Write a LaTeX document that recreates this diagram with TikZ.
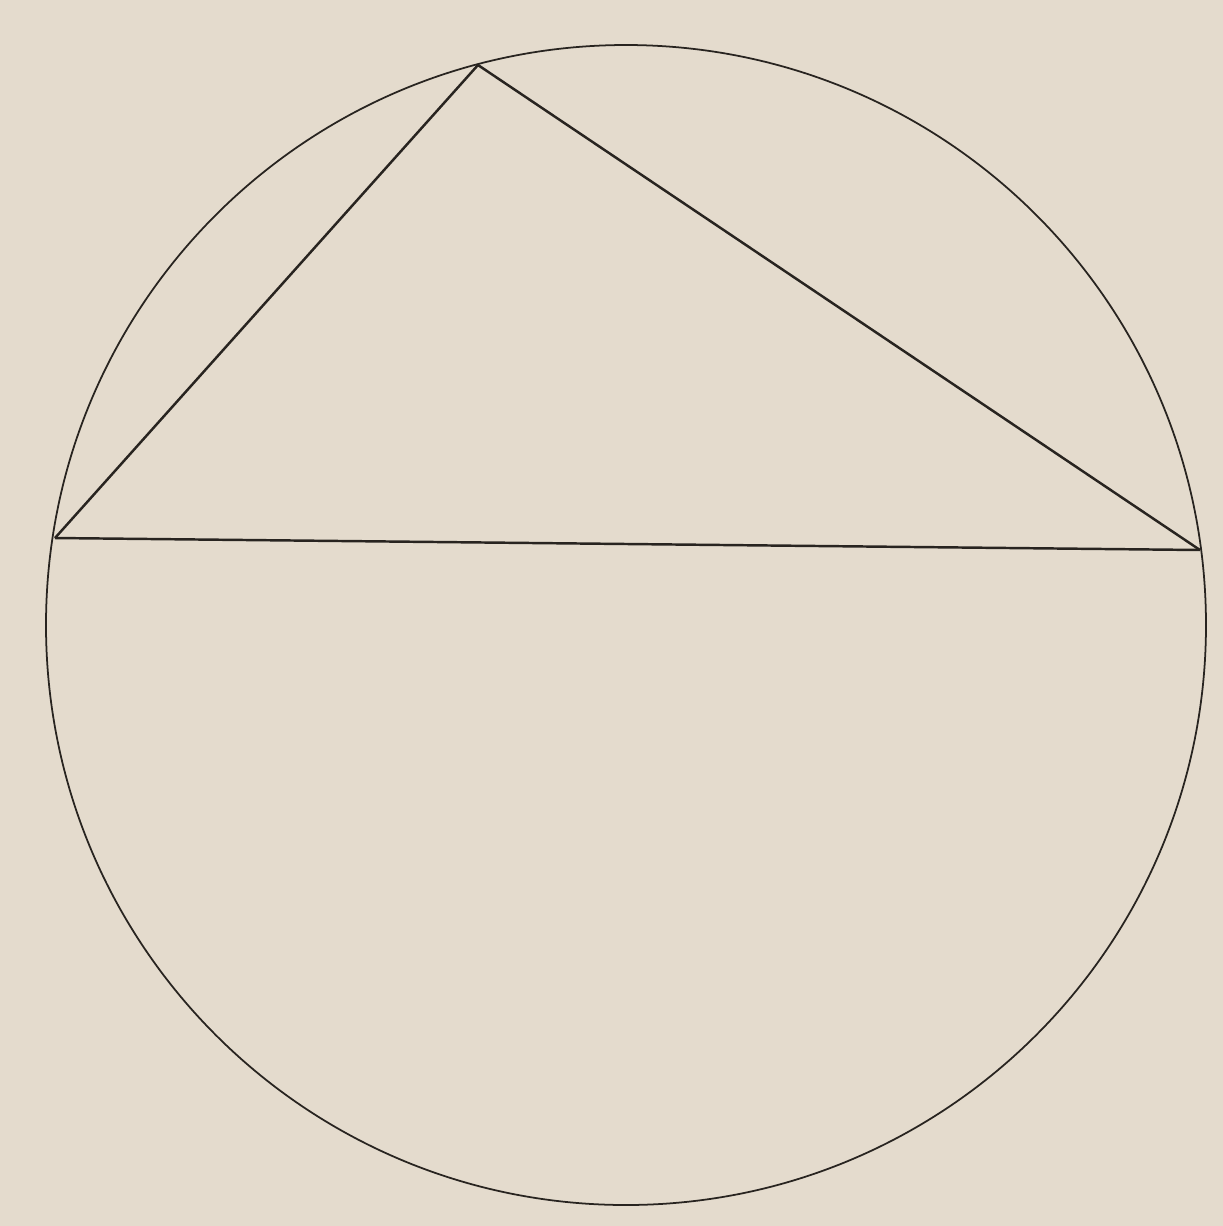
\documentclass[tikz,border=0pt]{standalone}
\definecolor{paper}{RGB}{228,219,205}
\definecolor{ink}{RGB}{40,36,32}
\begin{document}
\begin{tikzpicture}[x=0.01cm,y=-0.01cm,
  rim/.style={draw=ink,line width=0.5pt},
  chord/.style={draw=ink,line width=0.7pt,line join=round}]
\fill[paper] (0,0) rectangle (1223,1226);
\useasboundingbox (0,0) rectangle (1223,1226);
\coordinate (O) at (626,625);
\coordinate (A) at (55,538);
\coordinate (B) at (1200,550);
\coordinate (C) at (478,65);
\draw[rim] (O) circle[radius=580];
\draw[chord] (A) -- (B);
\draw[chord] (A) -- (C) -- (B);
\end{tikzpicture}
\end{document}
